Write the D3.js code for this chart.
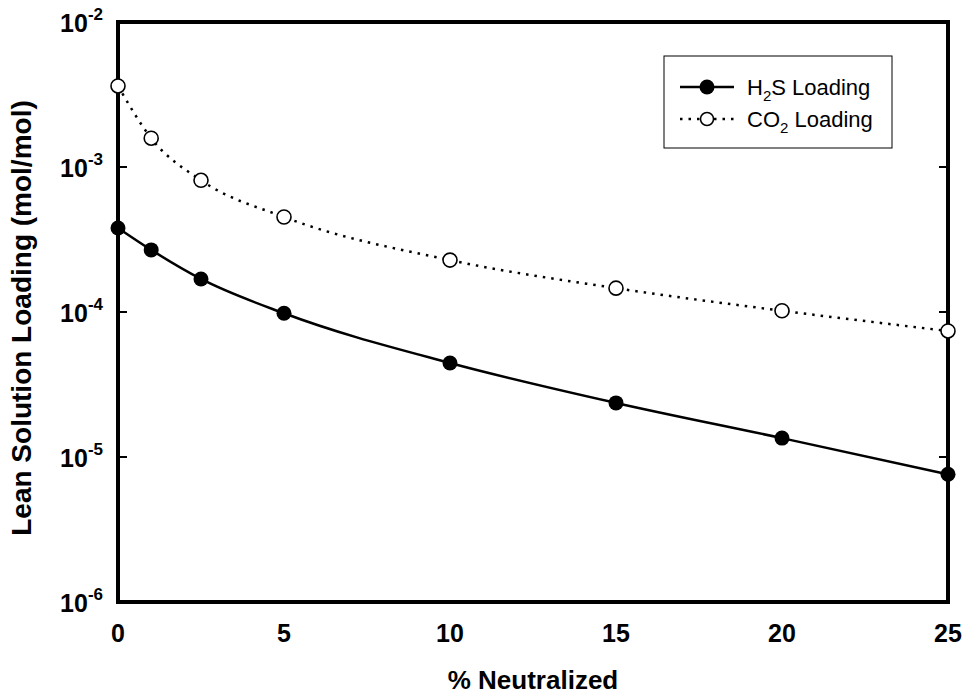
<!DOCTYPE html>
<html>
<head>
<meta charset="utf-8">
<script src="https://cdn.jsdelivr.net/npm/d3@7"></script>
<style>
  body {margin: 0; background: #fff;}
  text {font-family: "Liberation Sans", Arial, sans-serif; fill: #000;}
</style>
</head>
<body>
<script>
const svgWidth = 965
const svgHeight = 696

// data
const neutralized = [0, 1, 2.5, 5, 10, 15, 20, 25]
const h2sLoading = [3.8e-4, 2.68e-4, 1.69e-4, 9.8e-5, 4.45e-5, 2.36e-5, 1.35e-5, 7.6e-6]
const co2Loading = [3.62e-3, 1.58e-3, 8.1e-4, 4.52e-4, 2.28e-4, 1.46e-4, 1.02e-4, 7.4e-5]
const xTicks = [0, 5, 10, 15, 20, 25]
const yTickExps = [-6, -5, -4, -3, -2]

const margin = {top: 22, right: 17, bottom: 94, left: 118}
const width = svgWidth - margin.left - margin.right
const height = svgHeight - margin.top - margin.bottom

const svg = d3.select('body').append('svg')
  .attr('width', svgWidth).attr('height', svgHeight)
const g = svg.append('g')
  .attr('transform', `translate(${margin.left},${margin.top})`)

const x = d3.scaleLinear().domain([0, 25]).range([0, width])
const y = d3.scaleLog().domain([1e-6, 1e-2]).range([height, 0])

// x tick labels
g.append('g').selectAll('text').data(xTicks).enter().append('text')
  .attr('x', d => x(d)).attr('y', height + 40)
  .attr('text-anchor', 'middle')
  .style('font-size', '25px').style('font-weight', 'bold')
  .text(d => d)

// y tick labels 10^n
const yl = g.append('g').selectAll('text').data(yTickExps).enter().append('text')
  .attr('x', -15).attr('y', d => y(Math.pow(10, d)) + 10)
  .attr('text-anchor', 'end')
  .style('font-weight', 'bold')
yl.append('tspan').style('font-size', '25px').text('10')
yl.append('tspan').style('font-size', '17px').attr('dy', -12).text(d => d)

// ticks inward on left and right
const tk = g.append('g').attr('stroke', '#000').attr('stroke-width', 2)
tk.selectAll('.tl').data(yTickExps).enter().append('line')
  .attr('x1', 0).attr('x2', 9)
  .attr('y1', d => y(Math.pow(10, d))).attr('y2', d => y(Math.pow(10, d)))
tk.selectAll('.tr').data(yTickExps).enter().append('line')
  .attr('x1', width).attr('x2', width - 9)
  .attr('y1', d => y(Math.pow(10, d))).attr('y2', d => y(Math.pow(10, d)))

const line = d3.line()
  .x(d => x(d[0])).y(d => y(d[1]))
  .curve(d3.curveMonotoneX)

const h2s = neutralized.map((v, i) => [v, h2sLoading[i]])
const co2 = neutralized.map((v, i) => [v, co2Loading[i]])

g.append('path').datum(co2).attr('d', line)
  .attr('fill', 'none').attr('stroke', '#000')
  .attr('stroke-width', 2.5).attr('stroke-dasharray', '2.5,6')
g.append('path').datum(h2s).attr('d', line)
  .attr('fill', 'none').attr('stroke', '#000').attr('stroke-width', 2.5)

// frame
g.append('rect').attr('width', width).attr('height', height)
  .attr('fill', 'none').attr('stroke', '#000').attr('stroke-width', 4)

g.append('g').selectAll('circle').data(co2).enter().append('circle')
  .attr('cx', d => x(d[0])).attr('cy', d => y(d[1])).attr('r', 7)
  .attr('fill', '#fff').attr('stroke', '#000').attr('stroke-width', 1.6)
g.append('g').selectAll('circle').data(h2s).enter().append('circle')
  .attr('cx', d => x(d[0])).attr('cy', d => y(d[1])).attr('r', 7.5)
  .attr('fill', '#000')

// axis titles
svg.append('text')
  .attr('x', margin.left + width / 2).attr('y', 689)
  .attr('text-anchor', 'middle')
  .style('font-size', '26px').style('font-weight', 'bold')
  .text('% Neutralized')
svg.append('text')
  .attr('transform', `translate(31,318) rotate(-90)`)
  .attr('text-anchor', 'middle')
  .style('font-size', '28px').style('font-weight', 'bold')
  .text('Lean Solution Loading (mol/mol)')

// legend
const lg = svg.append('g').attr('transform', 'translate(664,56)')
lg.append('rect').attr('width', 228).attr('height', 92)
  .attr('fill', '#fff').attr('stroke', '#000').attr('stroke-width', 1)
lg.append('line').attr('x1', 16).attr('x2', 70).attr('y1', 31).attr('y2', 31)
  .attr('stroke', '#000').attr('stroke-width', 2.5)
lg.append('circle').attr('cx', 43).attr('cy', 31).attr('r', 7.5).attr('fill', '#000')
lg.append('line').attr('x1', 16).attr('x2', 70).attr('y1', 63).attr('y2', 63)
  .attr('stroke', '#000').attr('stroke-width', 2.5).attr('stroke-dasharray', '2.5,6')
lg.append('circle').attr('cx', 43).attr('cy', 63).attr('r', 6.5)
  .attr('fill', '#fff').attr('stroke', '#000').attr('stroke-width', 1.5)

const t1 = lg.append('text').attr('x', 83).attr('y', 39).style('font-size', '22px')
t1.append('tspan').text('H')
t1.append('tspan').attr('dy', 6).style('font-size', '15px').text('2')
t1.append('tspan').attr('dy', -6).text('S Loading')
const t2 = lg.append('text').attr('x', 83).attr('y', 71).style('font-size', '22px')
t2.append('tspan').text('CO')
t2.append('tspan').attr('dy', 6).style('font-size', '15px').text('2')
t2.append('tspan').attr('dy', -6).text(' Loading')
</script>
</body>
</html>
